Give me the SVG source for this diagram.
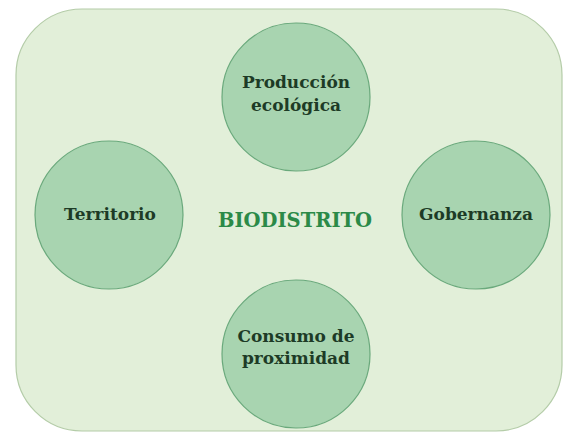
<svg xmlns="http://www.w3.org/2000/svg" width="564" height="433" viewBox="0 0 564 433">
  <style>
    .bg { fill: #e2efd9; stroke: #b4cca8; stroke-width: 1.2; }
    .node { fill: #a8d4b0; stroke: #6aa97c; stroke-width: 1.2; }
    .lbl { font-family: "DejaVu Serif", "Liberation Serif", serif; font-weight: bold; font-size: 17px; fill: #1d3b26; text-anchor: middle; }
    .title { font-family: "DejaVu Serif", "Liberation Serif", serif; font-weight: bold; font-size: 19.5px; fill: #2b8a48; text-anchor: middle; }
  </style>
  <rect width="564" height="433" fill="#ffffff"/>
  <rect class="bg" x="16" y="9" width="546" height="422" rx="66" ry="66"/>
  <g id="connectors"></g>
  <g id="produccion">
    <circle class="node" cx="296" cy="97" r="74"/>
    <text class="lbl" x="296" y="88">Producción</text>
    <text class="lbl" x="296" y="111">ecológica</text>
  </g>
  <g id="territorio">
    <circle class="node" cx="109" cy="215" r="74"/>
    <text class="lbl" x="110" y="220">Territorio</text>
  </g>
  <g id="biodistrito">
    <text class="title" x="295" y="227">BIODISTRITO</text>
  </g>
  <g id="gobernanza">
    <circle class="node" cx="476" cy="215" r="74"/>
    <text class="lbl" x="476" y="220">Gobernanza</text>
  </g>
  <g id="consumo">
    <circle class="node" cx="296" cy="354" r="74"/>
    <text class="lbl" x="296" y="342">Consumo de</text>
    <text class="lbl" x="296" y="364">proximidad</text>
  </g>
</svg>
